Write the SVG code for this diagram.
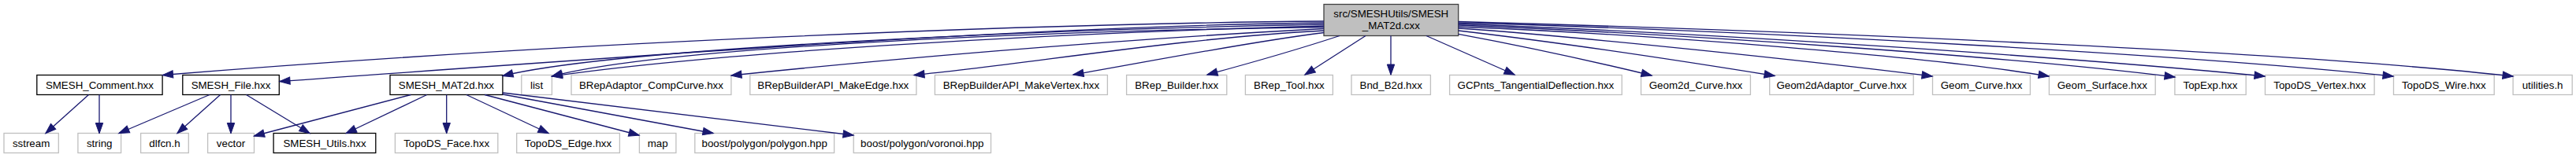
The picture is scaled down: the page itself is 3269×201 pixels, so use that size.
<svg xmlns="http://www.w3.org/2000/svg" width="3269" height="201" viewBox="0 0 3269 201">
<style>
text{font-family:"Liberation Sans",Arial,Helvetica,sans-serif;font-size:13.33px;fill:#000;text-anchor:middle}
.ext{fill:#fff;stroke:#bfbfbf;stroke-width:1.3}
.doc{fill:#fff;stroke:#000;stroke-width:1.3}
.root{fill:#bfbfbf;stroke:#404040;stroke-width:1.3}
.e{fill:none;stroke:#191970;stroke-width:1.3;marker-end:url(#arr)}
</style>
<defs>
<marker id="arr" markerUnits="userSpaceOnUse" viewBox="-1 -6 16 12" markerWidth="16" markerHeight="12" refX="13" refY="0" orient="auto">
<path d="M0,-4.7 L13.3,0 L0,4.7 z" fill="#191970" stroke="#191970" stroke-width="1"/>
</marker>
</defs>
<rect width="3269" height="201" fill="#fff"/>
<g id="nodes">
<g id="root"><rect class="root" x="1680" y="5.5" width="170.7" height="40"/><text x="1765.3" y="21.5">src/SMESHUtils/SMESH</text><text x="1765.3" y="36.5">_MAT2d.cxx</text></g>
<g id="n_comment"><rect class="doc" x="46.8" y="95.5" width="159.3" height="25"/><text x="126.4" y="112.5">SMESH_Comment.hxx</text></g>
<g id="n_file"><rect class="doc" x="231.8" y="95.5" width="122.5" height="25"/><text x="293" y="112.5">SMESH_File.hxx</text></g>
<g id="n_mat2d"><rect class="doc" x="495" y="95.5" width="142.9" height="25"/><text x="566.4" y="112.5">SMESH_MAT2d.hxx</text></g>
<g id="n_list"><rect class="ext" x="661.8" y="95.5" width="38.6" height="25"/><text x="681.1" y="112.5">list</text></g>
<g id="n_brepadaptor"><rect class="ext" x="725" y="95.5" width="202.9" height="25"/><text x="826.4" y="112.5">BRepAdaptor_CompCurve.hxx</text></g>
<g id="n_makeedge"><rect class="ext" x="951.8" y="95.5" width="211.1" height="25"/><text x="1057.3" y="112.5">BRepBuilderAPI_MakeEdge.hxx</text></g>
<g id="n_makevertex"><rect class="ext" x="1186.4" y="95.5" width="219" height="25"/><text x="1295.9" y="112.5">BRepBuilderAPI_MakeVertex.hxx</text></g>
<g id="n_brepbuilder"><rect class="ext" x="1429.6" y="95.5" width="127.2" height="25"/><text x="1493.2" y="112.5">BRep_Builder.hxx</text></g>
<g id="n_breptool"><rect class="ext" x="1580.4" y="95.5" width="111" height="25"/><text x="1635.9" y="112.5">BRep_Tool.hxx</text></g>
<g id="n_bndb2d"><rect class="ext" x="1715" y="95.5" width="100.4" height="25"/><text x="1765.2" y="112.5">Bnd_B2d.hxx</text></g>
<g id="n_gcpnts"><rect class="ext" x="1839.6" y="95.5" width="218.6" height="25"/><text x="1948.9" y="112.5">GCPnts_TangentialDeflection.hxx</text></g>
<g id="n_geom2dcurve"><rect class="ext" x="2082.5" y="95.5" width="138.9" height="25"/><text x="2152" y="112.5">Geom2d_Curve.hxx</text></g>
<g id="n_geom2dadaptor"><rect class="ext" x="2245.7" y="95.5" width="182.5" height="25"/><text x="2337" y="112.5">Geom2dAdaptor_Curve.hxx</text></g>
<g id="n_geomcurve"><rect class="ext" x="2452.5" y="95.5" width="123.9" height="25"/><text x="2514.5" y="112.5">Geom_Curve.hxx</text></g>
<g id="n_geomsurface"><rect class="ext" x="2600.4" y="95.5" width="134.8" height="25"/><text x="2667.8" y="112.5">Geom_Surface.hxx</text></g>
<g id="n_topexp"><rect class="ext" x="2759.9" y="95.5" width="90.3" height="25"/><text x="2805" y="112.5">TopExp.hxx</text></g>
<g id="n_topovertex"><rect class="ext" x="2874.5" y="95.5" width="138.6" height="25"/><text x="2943.8" y="112.5">TopoDS_Vertex.hxx</text></g>
<g id="n_topowire"><rect class="ext" x="3037.5" y="95.5" width="127.7" height="25"/><text x="3101.3" y="112.5">TopoDS_Wire.hxx</text></g>
<g id="n_utilities"><rect class="ext" x="3189.1" y="95.5" width="75.1" height="25"/><text x="3226.6" y="112.5">utilities.h</text></g>
<g id="n_sstream"><rect class="ext" x="5" y="169.5" width="69.3" height="25"/><text x="39.6" y="186.5">sstream</text></g>
<g id="n_string"><rect class="ext" x="98.9" y="169.5" width="54.7" height="25"/><text x="126.2" y="186.5">string</text></g>
<g id="n_dlfcn"><rect class="ext" x="178.6" y="169.5" width="60.7" height="25"/><text x="209" y="186.5">dlfcn.h</text></g>
<g id="n_vector"><rect class="ext" x="263.6" y="169.5" width="58.9" height="25"/><text x="293" y="186.5">vector</text></g>
<g id="n_utils"><rect class="doc" x="347.1" y="169.5" width="129.7" height="25"/><text x="412" y="186.5">SMESH_Utils.hxx</text></g>
<g id="n_topoface"><rect class="ext" x="501.4" y="169.5" width="130.4" height="25"/><text x="566.6" y="186.5">TopoDS_Face.hxx</text></g>
<g id="n_topoedge"><rect class="ext" x="655.7" y="169.5" width="130.7" height="25"/><text x="721" y="186.5">TopoDS_Edge.hxx</text></g>
<g id="n_map"><rect class="ext" x="811.4" y="169.5" width="46.5" height="25"/><text x="834.6" y="186.5">map</text></g>
<g id="n_polygon"><rect class="ext" x="881.8" y="169.5" width="176.8" height="25"/><text x="970.2" y="186.5">boost/polygon/polygon.hpp</text></g>
<g id="n_voronoi"><rect class="ext" x="1083.2" y="169.5" width="174.3" height="25"/><text x="1170.3" y="186.5">boost/polygon/voronoi.hpp</text></g>
</g>
<g id="connectors">
<path class="e" d="M1680,27 C1300,30 700,55 206.5,95.5"/>
<path class="e" d="M1680,29 C1300,33 800,72 355,103.5"/>
<path class="e" d="M1680,31 C1300,38 780,62 638,96.5"/>
<path class="e" d="M1680,33 C1300,43 900,68 700.5,97"/>
<path class="e" d="M1680,34.5 C1350,39 850,58 700.5,97"/>
<path class="e" d="M1680,36.5 C1400,51 1100,78 928,96"/>
<path class="e" d="M1680,39 C1500,48 1300,82 1160,95.5"/>
<path class="e" d="M1680,41.5 C1580,54 1450,80 1362,95"/>
<path class="e" d="M1700,45.5 C1650,62 1580,82 1532,95"/>
<path class="e" d="M1733,45.5 L1656,95"/>
<path class="e" d="M1765,45.5 L1765,95"/>
<path class="e" d="M1810,45.5 L1922,95"/>
<path class="e" d="M1850.7,43.3 C1930,58 2030,80 2096,96"/>
<path class="e" d="M1850.7,39 C1980,54 2150,80 2252,96.5"/>
<path class="e" d="M1850.7,36 C2000,46 2300,78 2452,97"/>
<path class="e" d="M1850.7,34 C2100,44 2450,72 2600,97"/>
<path class="e" d="M1850.7,32 C2150,44 2550,72 2760,98"/>
<path class="e" d="M1850.7,30.5 C2200,43 2650,75 2874,97"/>
<path class="e" d="M1850.7,29 C2250,40 2780,70 3037,97"/>
<path class="e" d="M1850.7,27.5 C2300,40 2900,65 3189,97"/>
<path class="e" d="M112.5,120.5 L58,169.5"/>
<path class="e" d="M126,120.5 L126,169.5"/>
<path class="e" d="M266,120.5 L151,169.5"/>
<path class="e" d="M279.6,120.5 L225,169.5"/>
<path class="e" d="M293,120.5 L293,169.5"/>
<path class="e" d="M312.5,120.5 L393,169.5"/>
<path class="e" d="M521.4,120.5 L322.5,173"/>
<path class="e" d="M541.8,120.5 L439.3,169.5"/>
<path class="e" d="M566.7,120.5 L566.7,169.5"/>
<path class="e" d="M591.8,120.5 L696,169.5"/>
<path class="e" d="M615,120.5 L811,172"/>
<path class="e" d="M637.9,120 L905,169.5"/>
<path class="e" d="M637.9,118 L1083,172"/>
</g>
</svg>
